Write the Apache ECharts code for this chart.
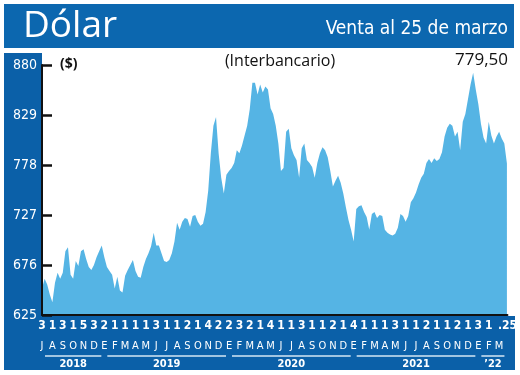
<!DOCTYPE html>
<html><head><meta charset="utf-8">
<script src="https://cdn.jsdelivr.net/npm/echarts@6/dist/echarts.min.js"></script>
<style>html,body{margin:0;padding:0;background:#fff}#c{width:520px;height:375px}</style>
</head><body><div id="c"></div>
<script>
// Dólar interbancario, one reading per quarter month, from July 2018 to 25 March 2022
const values = [
  652, 662, 656, 646, 638, 658, 668, 662, 668, 690,
  694, 666, 662, 680, 675, 690, 692, 682, 674, 671,
  676, 684, 690, 696, 684, 674, 670, 666, 652, 664,
  650, 648, 665, 671, 676, 681, 670, 664, 663, 674,
  682, 688, 695, 709, 696, 696, 688, 680, 679, 681,
  688, 700, 719, 712, 720, 724, 723, 715, 726, 727,
  720, 716, 718, 730, 752, 790, 818, 827, 790, 765,
  749, 768, 772, 775, 780, 793, 790, 798, 808, 818,
  835, 862, 862, 850, 860, 852, 858, 855, 836, 830,
  818, 800, 772, 775, 812, 815, 795, 788, 783, 765,
  795, 800, 783, 780, 776, 765, 780, 790, 796, 793,
  786, 772, 756, 762, 767, 760, 749, 735, 722, 712,
  700, 733, 736, 737, 730, 725, 712, 728, 730, 724,
  727, 726, 712, 709, 707, 706, 708, 714, 728, 726,
  720, 726, 740, 744, 750, 758, 765, 769, 780, 784,
  780, 785, 782, 784, 791, 807, 816, 820, 818, 807,
  812, 793, 822, 830, 845, 860, 872, 855, 840, 820,
  806, 800, 822, 808, 800, 807, 812, 805, 800, 779.5
];
const stepMonths = 0.25;          // one reading every quarter month
const spanMonths = 44.8;          // 1 Jul 2018 .. 25 Mar 2022
const monthLetters = ['J','A','S','O','N','D',
  'E','F','M','A','M','J','J','A','S','O','N','D',
  'E','F','M','A','M','J','J','A','S','O','N','D',
  'E','F','M','A','M','J','J','A','S','O','N','D',
  'E','F','M'];
const dayLabels = ['3','1','3','1','5','3',
  '2','1','1','1','1','3','1','1','2','1','4','2',
  '2','3','2','1','4','1','1','3','1','1','2','1',
  '4','1','1','1','3','1','1','2','1','1','2','1',
  '3','1','1'];
const endLabel = '.25';
const yearLabels = ['2018','2019','2020','2021','\u201922'];
const yearStarts = [0, 6, 18, 30, 42];
const yearEnds = [6, 18, 30, 42, 44.8];
const yTicks = [625, 676, 727, 778, 829, 880];
const lastValueText = '779,50';

const NARROW = "'Liberation Sans Narrow','DejaVu Sans Condensed',sans-serif";
const HEADER = '#0c67af';
const PANEL = '#0b60a8';

const chart = echarts.init(document.getElementById('c'), null, {renderer: 'canvas'});
const seriesData = values.map((v, i) => [i * stepMonths, v]);

const baseGraphic = [
  {type: 'rect', z: -10, shape: {x: 4, y: 4, width: 510, height: 44}, style: {fill: HEADER}},
  {type: 'rect', z: -10, shape: {x: 4, y: 53, width: 38, height: 317}, style: {fill: PANEL}},
  {type: 'rect', z: -10, shape: {x: 4, y: 316, width: 511, height: 54}, style: {fill: PANEL}},
  {type: 'text', z: 10, x: 23, y: 26, style: {text: 'Dólar', fill: '#fff', font: "500 37px 'Open Sans', sans-serif", textVerticalAlign: 'middle'}},
  {type: 'text', z: 10, x: 508, y: 29, style: {text: 'Venta al 25 de marzo', fill: '#fff', font: "19px " + NARROW, textAlign: 'right', textVerticalAlign: 'middle'}},
  {type: 'text', z: 10, x: 60, y: 64, style: {text: '($)', fill: '#111', font: "bold 14px 'Open Sans', sans-serif", textVerticalAlign: 'middle'}},
  {type: 'text', z: 10, x: 280, y: 61, style: {text: '(Interbancario)', fill: '#111', font: "16px 'Open Sans', sans-serif", textAlign: 'center', textVerticalAlign: 'middle'}},
  {type: 'text', z: 10, x: 508, y: 60, style: {text: lastValueText, fill: '#111', font: "17px 'Open Sans', sans-serif", textAlign: 'right', textVerticalAlign: 'middle'}}
];

const xBase = {type: 'value', min: 0, max: spanMonths, gridIndex: 0, position: 'bottom', splitLine: {show: false}, z: 10};

chart.setOption({
  animation: false,
  backgroundColor: '#fff',
  grid: {left: 42, right: 12, top: 65, bottom: 60, containLabel: false},
  xAxis: [
    Object.assign({}, xBase, {
      axisLine: {show: true, lineStyle: {color: '#111', width: 2}},
      axisTick: {show: false}, axisLabel: {show: false}
    }),
    Object.assign({}, xBase, {
      interval: 1, offset: 0,
      axisLine: {show: false}, axisTick: {show: false},
      axisLabel: {show: true, showMinLabel: true, showMaxLabel: true, margin: 5, color: '#fff',
        fontSize: 12, fontWeight: 'bold', fontFamily: NARROW,
        formatter: (v) => { const i = Math.round(v); return Math.abs(v - i) < 1e-6 ? (dayLabels[i] || '') : endLabel; }}
    }),
    Object.assign({}, xBase, {
      interval: 1, offset: 0,
      axisLine: {show: false}, axisTick: {show: false},
      axisLabel: {show: true, showMinLabel: true, showMaxLabel: true, margin: 26, color: '#fff',
        fontSize: 11, fontFamily: NARROW,
        formatter: (v) => { const i = Math.round(v); return Math.abs(v - i) < 1e-6 ? (monthLetters[i] || '') : ''; }}
    })
  ],
  yAxis: {
    type: 'value', min: yTicks[0], max: yTicks[yTicks.length - 1], interval: yTicks[1] - yTicks[0], z: 10,
    axisLine: {show: true, lineStyle: {color: '#111', width: 2}},
    axisTick: {show: true, inside: true, length: 10, lineStyle: {color: '#111', width: 2.5}},
    axisLabel: {color: '#fff', fontSize: 14, fontFamily: NARROW, margin: 5},
    splitLine: {show: false}
  },
  series: [{
    type: 'line', xAxisIndex: 0, data: seriesData, showSymbol: false, symbol: 'none',
    lineStyle: {width: 0}, areaStyle: {color: '#55b4e4', opacity: 1, origin: 'start'}, z: 2
  }],
  graphic: baseGraphic
});

// year underlines and labels placed through the x scale
const yearGraphic = [];
yearLabels.forEach((lab, i) => {
  const x0 = chart.convertToPixel({xAxisIndex: 0}, yearStarts[i]);
  const x1 = chart.convertToPixel({xAxisIndex: 0}, yearEnds[i]);
  yearGraphic.push({type: 'line', z: 10, shape: {x1: x0 + 3, y1: 356, x2: x1 - 3, y2: 356}, style: {stroke: '#d6e7f5', lineWidth: 1.5}});
  yearGraphic.push({type: 'text', z: 10, x: (x0 + x1) / 2, y: 364, style: {text: lab, fill: '#fff', font: "bold 11px " + NARROW, textAlign: 'center', textVerticalAlign: 'middle'}});
});
chart.setOption({graphic: baseGraphic.concat(yearGraphic)});
</script>
</body></html>
